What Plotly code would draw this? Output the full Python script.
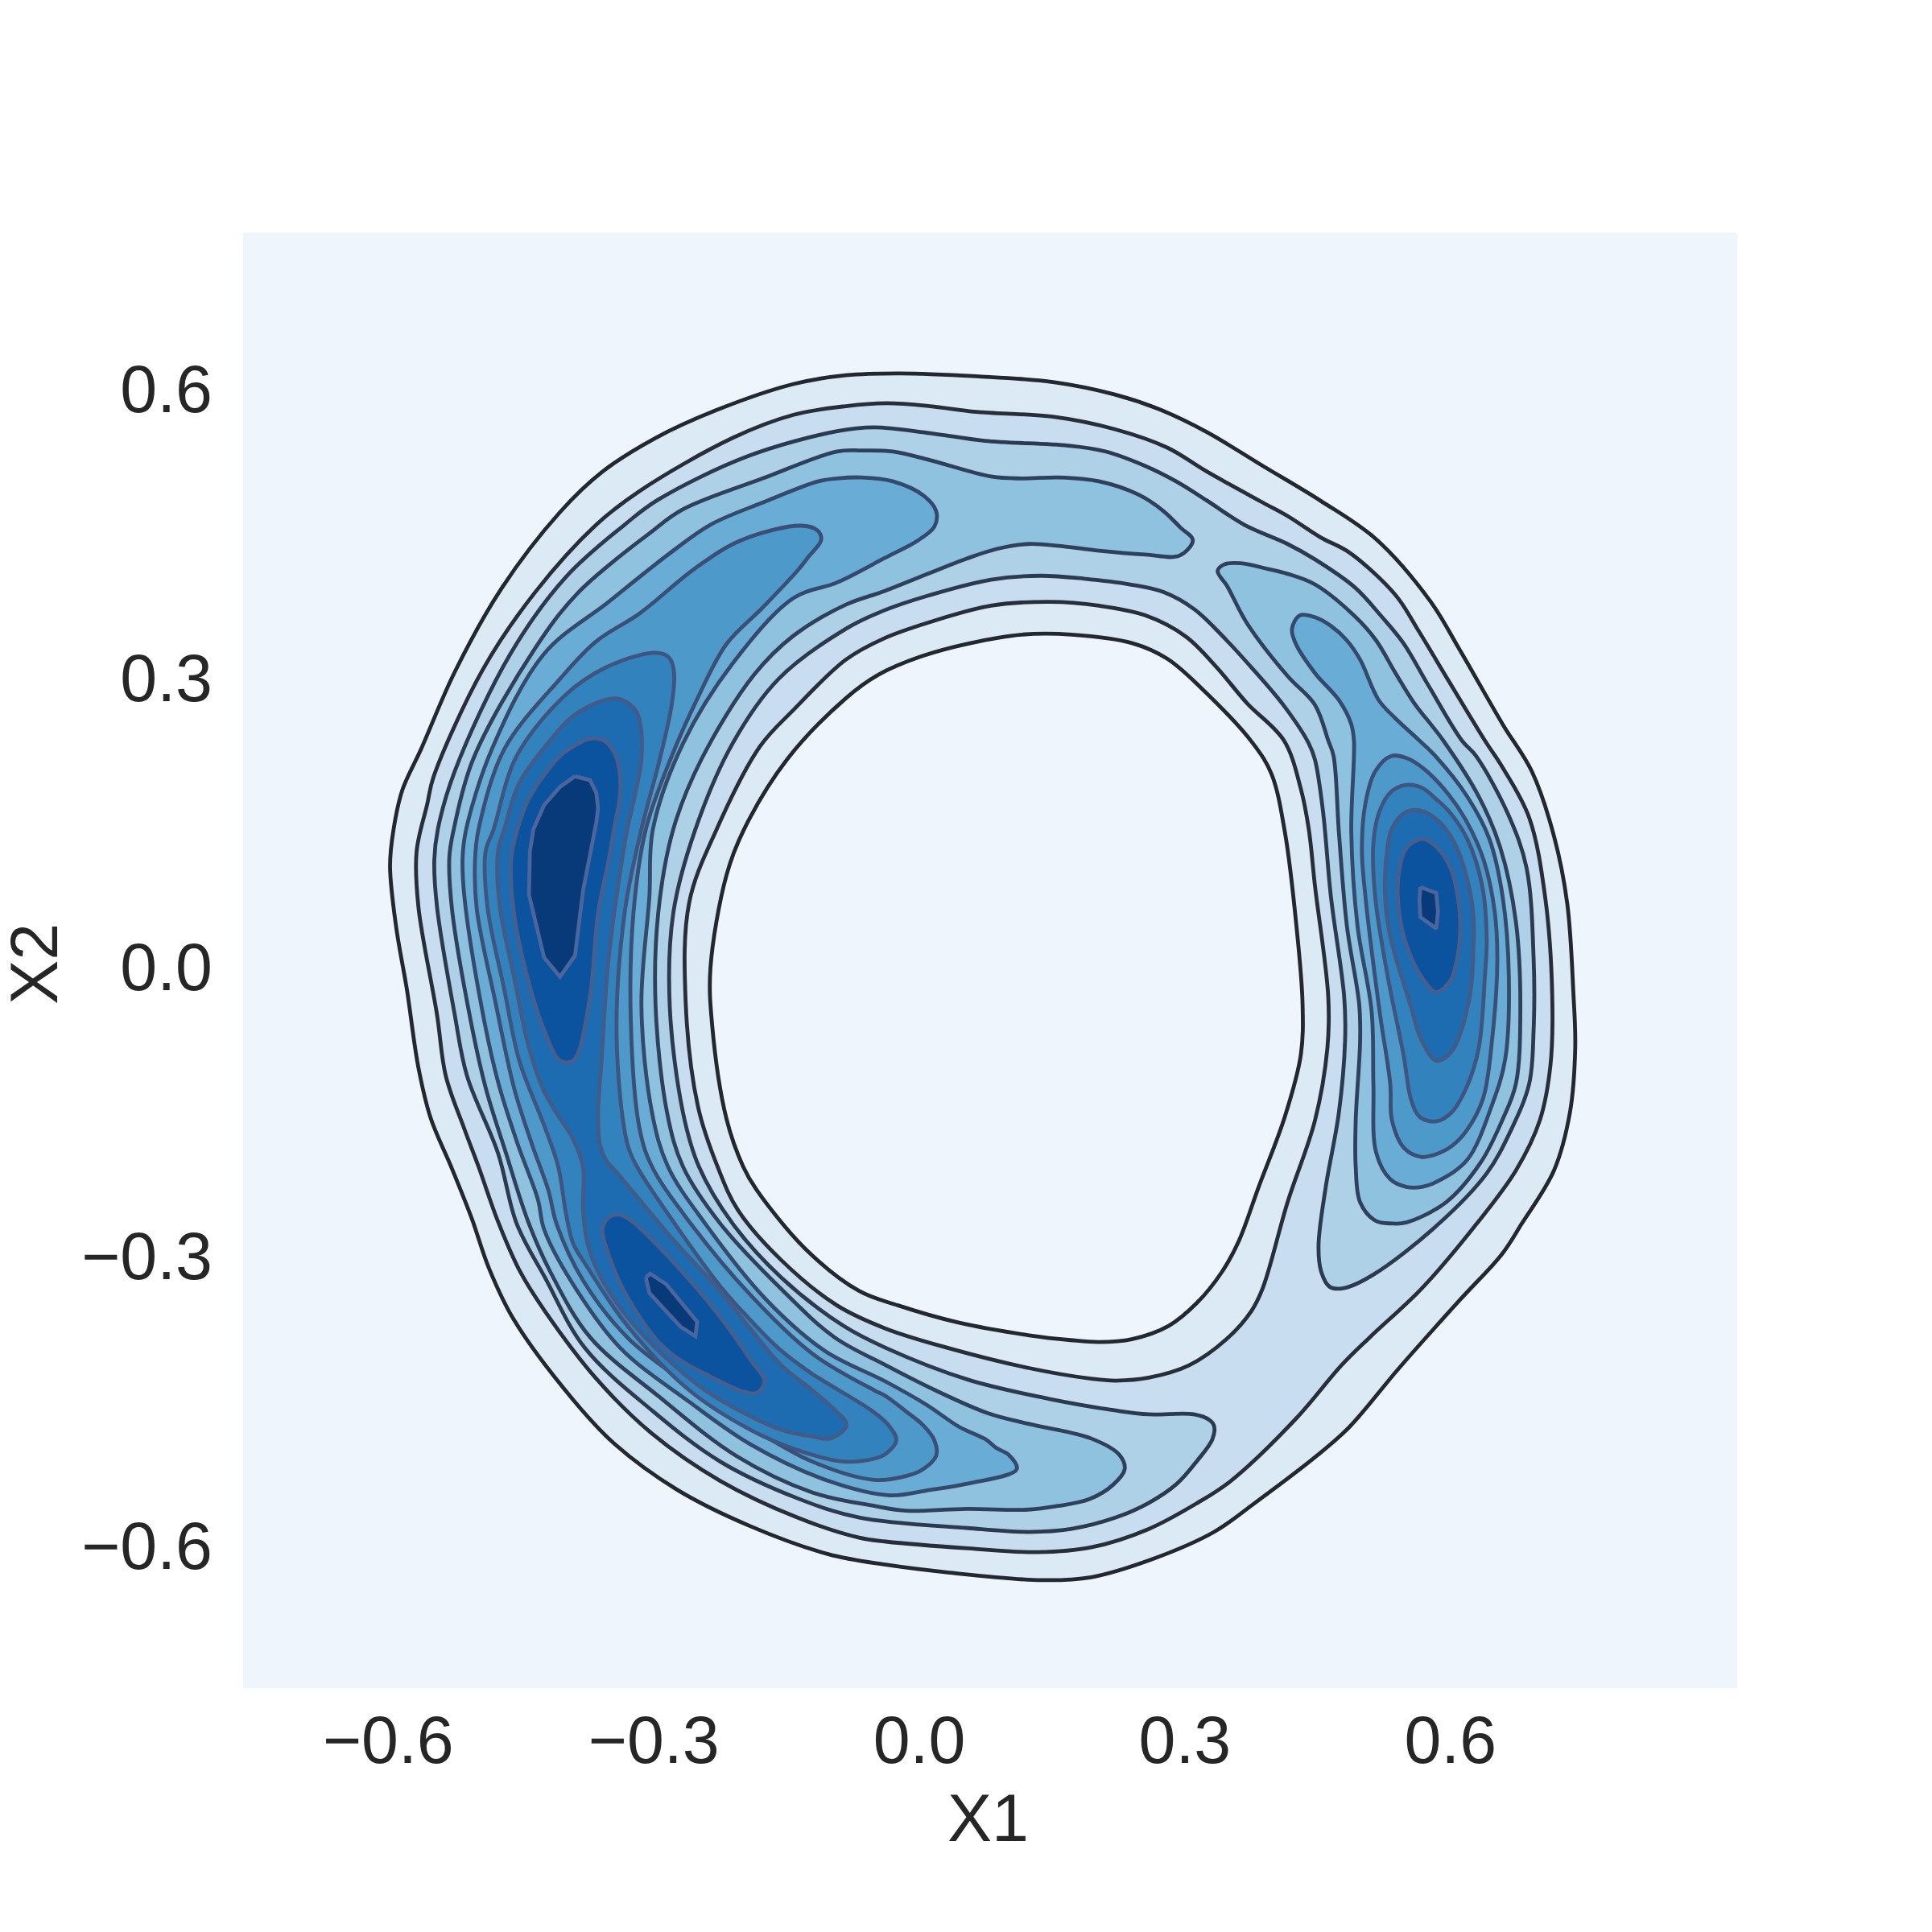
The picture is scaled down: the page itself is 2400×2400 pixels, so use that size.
import plotly.graph_objects as go

# Density contours, in data units (X1, X2); one closed path per array pair.
L1_outer_x = [-0.023,0.064,0.151,0.221,0.273,0.325,0.388,0.453,0.516,0.577,0.610,0.659,0.692,0.717,0.732,0.739,0.741,0.735,0.717,0.680,0.658,0.611,0.542,0.486,0.449,0.379,0.333,0.264,0.194,0.138,0.032,-0.038,-0.103,-0.191,-0.274,-0.344,-0.392,-0.458,-0.486,-0.506,-0.529,-0.552,-0.566,-0.579,-0.591,-0.598,-0.594,-0.584,-0.563,-0.525,-0.472,-0.406,-0.358,-0.298,-0.229,-0.142,-0.083]
L1_outer_y = [0.616,0.613,0.607,0.594,0.578,0.555,0.520,0.484,0.444,0.380,0.330,0.252,0.203,0.136,0.066,-0.028,-0.084,-0.151,-0.211,-0.267,-0.298,-0.345,-0.416,-0.477,-0.507,-0.556,-0.586,-0.614,-0.633,-0.636,-0.628,-0.620,-0.609,-0.580,-0.542,-0.495,-0.448,-0.366,-0.313,-0.260,-0.207,-0.157,-0.104,-0.023,0.041,0.105,0.143,0.184,0.226,0.306,0.393,0.472,0.514,0.549,0.578,0.605,0.614]

L2_outer_x = [-0.037,0.012,0.064,0.151,0.221,0.280,0.325,0.388,0.416,0.453,0.486,0.538,0.562,0.598,0.639,0.659,0.689,0.707,0.715,0.713,0.701,0.674,0.629,0.568,0.509,0.477,0.426,0.352,0.314,0.259,0.194,0.134,0.055,-0.038,-0.068,-0.138,-0.225,-0.302,-0.365,-0.423,-0.451,-0.476,-0.498,-0.514,-0.535,-0.545,-0.566,-0.568,-0.556,-0.549,-0.493,-0.434,-0.365,-0.316,-0.211,-0.142,-0.083]
L2_outer_y = [0.585,0.582,0.576,0.571,0.558,0.539,0.514,0.482,0.468,0.446,0.430,0.386,0.352,0.297,0.235,0.207,0.155,0.073,-0.028,-0.102,-0.159,-0.211,-0.267,-0.333,-0.384,-0.413,-0.468,-0.533,-0.556,-0.583,-0.602,-0.607,-0.603,-0.596,-0.592,-0.571,-0.533,-0.484,-0.427,-0.357,-0.316,-0.264,-0.207,-0.168,-0.113,-0.049,0.063,0.120,0.169,0.197,0.309,0.389,0.459,0.494,0.549,0.573,0.582]

L2_hole_x = [0.147,0.203,0.255,0.301,0.335,0.370,0.412,0.431,0.440,0.447,0.462,0.461,0.447,0.416,0.388,0.375,0.347,0.305,0.259,0.222,0.194,0.124,0.032,-0.038,-0.093,-0.156,-0.205,-0.228,-0.250,-0.264,-0.260,-0.229,-0.180,-0.142,-0.083,-0.040,0.012,0.081]
L2_hole_y = [0.379,0.375,0.365,0.343,0.312,0.274,0.235,0.185,0.143,0.084,-0.031,-0.084,-0.159,-0.244,-0.333,-0.357,-0.386,-0.413,-0.426,-0.429,-0.427,-0.416,-0.395,-0.375,-0.351,-0.304,-0.252,-0.207,-0.145,-0.036,0.067,0.143,0.229,0.267,0.319,0.341,0.358,0.375]

L1_hole_x = [0.172,0.241,0.280,0.318,0.377,0.398,0.413,0.426,0.433,0.431,0.413,0.383,0.361,0.342,0.314,0.282,0.240,0.203,0.171,0.124,0.045,-0.024,-0.068,-0.128,-0.184,-0.199,-0.218,-0.234,-0.236,-0.218,-0.198,-0.149,-0.083,-0.047,0.001,0.057,0.116]
L1_hole_y = [0.345,0.336,0.320,0.290,0.232,0.200,0.140,0.043,-0.039,-0.091,-0.155,-0.229,-0.284,-0.316,-0.348,-0.372,-0.386,-0.389,-0.387,-0.382,-0.369,-0.351,-0.336,-0.293,-0.231,-0.207,-0.157,-0.061,-0.001,0.095,0.143,0.216,0.279,0.303,0.322,0.336,0.345]

L3_x = [0.480,0.513,0.586,0.641,0.668,0.689,0.694,0.694,0.686,0.665,0.629,0.613,0.574,0.547,0.522,0.492,0.447,0.416,0.367,0.325,0.290,0.255,0.210,0.168,0.074,0.012,-0.051,-0.093,-0.194,-0.295,-0.333,-0.399,-0.462,-0.525,-0.544,-0.548,-0.545,-0.525,-0.511,-0.476,-0.455,-0.423,-0.378,-0.302,-0.225,-0.138,-0.068,0.055,0.124,0.171,0.222,0.259,0.291,0.314,0.331,0.333,0.328,0.310,0.259,0.222,0.147,0.055,-0.038,-0.086,-0.156,-0.211,-0.249,-0.267,-0.282,-0.278,-0.253,-0.211,-0.159,-0.083,-0.040,0.012,0.081,0.137,0.186,0.238,0.276,0.311,0.342,0.377,0.412,0.440,0.447,0.456,0.465,0.480,0.481,0.474,0.459,0.451,0.454,0.464]
L3_y = [-0.333,-0.319,-0.267,-0.214,-0.170,-0.121,-0.065,0.009,0.103,0.159,0.219,0.235,0.294,0.336,0.364,0.394,0.423,0.439,0.459,0.484,0.504,0.520,0.535,0.541,0.546,0.554,0.560,0.556,0.530,0.485,0.459,0.405,0.325,0.203,0.143,0.111,0.063,-0.049,-0.113,-0.193,-0.266,-0.322,-0.395,-0.460,-0.513,-0.551,-0.571,-0.582,-0.586,-0.583,-0.571,-0.556,-0.536,-0.512,-0.490,-0.476,-0.470,-0.464,-0.464,-0.460,-0.448,-0.428,-0.395,-0.372,-0.322,-0.266,-0.207,-0.151,-0.040,0.056,0.143,0.232,0.299,0.351,0.370,0.386,0.402,0.406,0.403,0.397,0.389,0.371,0.344,0.309,0.271,0.232,0.215,0.162,0.073,-0.031,-0.076,-0.151,-0.229,-0.289,-0.316,-0.332]

L4_left_x = [0.309,0.295,0.276,0.248,0.203,0.158,0.116,0.081,0.012,-0.030,-0.065,-0.093,-0.177,-0.267,-0.305,-0.385,-0.434,-0.504,-0.526,-0.531,-0.528,-0.507,-0.490,-0.467,-0.442,-0.417,-0.372,-0.295,-0.207,-0.121,-0.051,-0.015,0.054,0.120,0.157,0.192,0.219,0.232,0.226,0.194,0.124,0.078,0.018,-0.038,-0.096,-0.156,-0.225,-0.267,-0.285,-0.298,-0.295,-0.278,-0.246,-0.187,-0.142,-0.083,-0.040,0.012,0.054,0.088,0.123,0.158,0.203,0.255,0.294]
L4_left_y = [0.443,0.456,0.473,0.490,0.504,0.508,0.507,0.509,0.526,0.535,0.536,0.535,0.507,0.475,0.450,0.389,0.331,0.216,0.143,0.114,0.060,-0.055,-0.125,-0.193,-0.264,-0.316,-0.384,-0.445,-0.507,-0.545,-0.559,-0.564,-0.562,-0.563,-0.559,-0.552,-0.537,-0.521,-0.506,-0.489,-0.474,-0.463,-0.439,-0.413,-0.384,-0.334,-0.266,-0.207,-0.151,-0.040,0.056,0.143,0.216,0.303,0.344,0.376,0.390,0.409,0.424,0.434,0.439,0.437,0.432,0.428,0.427]

L4_right_x = [0.337,0.345,0.363,0.394,0.416,0.447,0.492,0.516,0.538,0.559,0.592,0.632,0.656,0.674,0.679,0.674,0.659,0.634,0.595,0.550,0.534,0.515,0.498,0.493,0.493,0.498,0.497,0.483,0.474,0.468,0.462,0.447,0.416,0.370,0.348]
L4_right_y = [0.411,0.418,0.419,0.413,0.408,0.397,0.364,0.339,0.305,0.274,0.235,0.177,0.125,0.047,-0.046,-0.121,-0.158,-0.203,-0.244,-0.265,-0.266,-0.263,-0.244,-0.207,-0.159,-0.076,-0.039,0.043,0.140,0.219,0.235,0.272,0.302,0.357,0.395]

L5_left_x = [0.019,0.005,-0.030,-0.065,-0.093,-0.114,-0.177,-0.236,-0.281,-0.351,-0.424,-0.483,-0.512,-0.516,-0.514,-0.493,-0.476,-0.454,-0.431,-0.424,-0.394,-0.338,-0.260,-0.191,-0.103,-0.033,0.008,0.054,0.110,0.101,0.087,0.075,0.045,0.008,-0.038,-0.107,-0.173,-0.242,-0.284,-0.302,-0.314,-0.305,-0.301,-0.267,-0.211,-0.142,-0.093,-0.040,-0.001,0.017]
L5_left_y = [0.473,0.489,0.504,0.508,0.507,0.504,0.482,0.459,0.430,0.379,0.325,0.226,0.143,0.114,0.073,-0.049,-0.119,-0.183,-0.241,-0.272,-0.325,-0.395,-0.451,-0.495,-0.533,-0.548,-0.543,-0.536,-0.521,-0.506,-0.499,-0.490,-0.477,-0.454,-0.430,-0.398,-0.345,-0.266,-0.207,-0.151,-0.040,0.073,0.143,0.232,0.315,0.383,0.399,0.424,0.443,0.457]

L5_right_x = [0.421,0.430,0.447,0.465,0.483,0.498,0.519,0.538,0.565,0.583,0.619,0.644,0.659,0.666,0.662,0.647,0.619,0.586,0.568,0.550,0.532,0.516,0.513,0.511,0.495,0.488,0.491,0.488,0.474,0.447,0.425]
L5_right_y = [0.351,0.365,0.363,0.354,0.339,0.319,0.277,0.258,0.235,0.219,0.177,0.133,0.073,-0.009,-0.095,-0.143,-0.200,-0.222,-0.228,-0.228,-0.220,-0.192,-0.121,-0.046,0.043,0.140,0.235,0.252,0.277,0.305,0.336]

L6_left_x = [-0.111,-0.115,-0.134,-0.201,-0.253,-0.316,-0.365,-0.406,-0.469,-0.498,-0.502,-0.500,-0.479,-0.458,-0.438,-0.419,-0.410,-0.380,-0.328,-0.260,-0.191,-0.121,-0.051,-0.015,0.004,0.019,0.017,0.004,-0.015,-0.038,-0.051,-0.121,-0.191,-0.260,-0.302,-0.316,-0.326,-0.323,-0.309,-0.281,-0.250,-0.218,-0.177,-0.138,-0.125]
L6_left_y = [0.443,0.453,0.458,0.443,0.414,0.367,0.338,0.299,0.226,0.143,0.111,0.060,-0.036,-0.125,-0.183,-0.232,-0.266,-0.325,-0.386,-0.434,-0.477,-0.513,-0.532,-0.528,-0.521,-0.507,-0.491,-0.475,-0.461,-0.445,-0.439,-0.401,-0.340,-0.264,-0.207,-0.168,-0.055,0.056,0.143,0.216,0.280,0.335,0.373,0.411,0.426]

L6_right_x = [0.533,0.550,0.571,0.598,0.619,0.638,0.650,0.653,0.647,0.637,0.618,0.601,0.584,0.568,0.548,0.534,0.532,0.520,0.504,0.500,0.504,0.515]
L6_right_y = [0.219,0.217,0.205,0.179,0.150,0.110,0.058,0.006,-0.076,-0.136,-0.170,-0.186,-0.194,-0.197,-0.188,-0.159,-0.121,-0.046,0.073,0.122,0.170,0.203]

L7_left_x = [-0.287,-0.303,-0.354,-0.399,-0.455,-0.481,-0.490,-0.488,-0.469,-0.452,-0.424,-0.408,-0.399,-0.391,-0.376,-0.330,-0.260,-0.191,-0.138,-0.086,-0.051,-0.038,-0.026,-0.035,-0.054,-0.121,-0.156,-0.191,-0.225,-0.281,-0.319,-0.330,-0.342,-0.333,-0.314,-0.294,-0.280,-0.277,-0.281]
L7_left_y = [0.324,0.326,0.311,0.283,0.219,0.143,0.120,0.063,-0.023,-0.097,-0.164,-0.207,-0.257,-0.287,-0.310,-0.372,-0.439,-0.480,-0.501,-0.513,-0.510,-0.505,-0.491,-0.475,-0.460,-0.422,-0.398,-0.366,-0.331,-0.260,-0.207,-0.183,-0.072,0.056,0.143,0.213,0.271,0.304,0.319]

L7_right_x = [0.533,0.550,0.568,0.583,0.598,0.619,0.636,0.641,0.639,0.632,0.619,0.601,0.584,0.566,0.556,0.547,0.529,0.515,0.513,0.520]
L7_right_y = [0.182,0.189,0.186,0.175,0.162,0.133,0.084,0.028,-0.009,-0.084,-0.123,-0.151,-0.160,-0.156,-0.139,-0.091,-0.009,0.073,0.129,0.162]

L8_left_x = [-0.338,-0.321,-0.315,-0.314,-0.323,-0.330,-0.351,-0.359,-0.363,-0.361,-0.354,-0.340,-0.319,-0.277,-0.225,-0.191,-0.156,-0.121,-0.095,-0.082,-0.100,-0.121,-0.156,-0.191,-0.242,-0.288,-0.330,-0.358,-0.374,-0.380,-0.380,-0.392,-0.406,-0.424,-0.441,-0.458,-0.474,-0.476,-0.469,-0.452,-0.420,-0.392,-0.356]
L8_left_y = [0.278,0.267,0.251,0.216,0.171,0.143,0.009,-0.097,-0.151,-0.183,-0.200,-0.215,-0.238,-0.284,-0.336,-0.375,-0.413,-0.439,-0.460,-0.475,-0.489,-0.487,-0.480,-0.466,-0.439,-0.404,-0.363,-0.325,-0.290,-0.252,-0.207,-0.177,-0.157,-0.129,-0.084,-0.010,0.063,0.120,0.143,0.191,0.232,0.260,0.277]

L8_right_x = [0.550,0.568,0.586,0.604,0.618,0.626,0.626,0.621,0.601,0.584,0.566,0.556,0.532,0.526,0.529,0.534]
L8_right_y = [0.161,0.162,0.152,0.130,0.095,0.054,0.020,-0.035,-0.088,-0.097,-0.073,-0.043,0.032,0.077,0.125,0.144]

L9_upper_x = [-0.372,-0.356,-0.347,-0.340,-0.338,-0.345,-0.351,-0.363,-0.373,-0.391,-0.406,-0.424,-0.441,-0.458,-0.461,-0.454,-0.441,-0.406,-0.389]
L9_upper_y = [0.237,0.235,0.226,0.210,0.181,0.143,0.111,0.056,-0.036,-0.097,-0.097,-0.065,-0.017,0.056,0.114,0.143,0.175,0.219,0.230]

L9_lower_x = [-0.338,-0.323,-0.277,-0.225,-0.191,-0.175,-0.185,-0.242,-0.288,-0.330,-0.353,-0.358,-0.351]
L9_lower_y = [-0.257,-0.265,-0.307,-0.363,-0.407,-0.430,-0.442,-0.422,-0.395,-0.342,-0.293,-0.272,-0.260]

L9_right_x = [0.568,0.584,0.600,0.609,0.611,0.607,0.600,0.584,0.568,0.550,0.542,0.541,0.550]
L9_right_y = [0.133,0.125,0.103,0.069,0.036,0.006,-0.014,-0.026,-0.011,0.024,0.058,0.092,0.123]

L10_upper_x = [-0.389,-0.372,-0.365,-0.363,-0.365,-0.380,-0.389,-0.406,-0.424,-0.441,-0.440,-0.436,-0.424,-0.406]
L10_upper_y = [0.198,0.194,0.181,0.165,0.150,0.079,0.012,-0.010,0.010,0.075,0.120,0.143,0.168,0.187]

L10_lower_x = [-0.309,-0.304,-0.286,-0.269,-0.251,-0.253,-0.270,-0.286,-0.305]
L10_lower_y = [-0.322,-0.318,-0.329,-0.348,-0.368,-0.383,-0.373,-0.357,-0.338]

L10_right_x = [0.566,0.584,0.586,0.584,0.566,0.565]
L10_right_y = [0.083,0.077,0.058,0.040,0.052,0.069]

tick_vals = [-0.6, -0.3, 0.0, 0.3, 0.6]
tick_text = ["\u22120.6", "\u22120.3", "0.0", "0.3", "0.6"]

BG = "#eef5fc"
FILLS = ["#dceaf6", "#c9ddf0", "#aed1e7", "#8fc2de", "#69add6", "#4d99ca", "#3282be", "#1d6cb1", "#0b539f", "#083979"]
LINES = ["#23272f", "#272e39", "#2c3a4f", "#2f405c", "#344a6c", "#394f75", "#3e5580", "#425b87", "#465f8e", "#4a669c"]

paths = [
    (L1_outer_x, L1_outer_y, FILLS[0], 0),
    (L2_outer_x, L2_outer_y, FILLS[1], 1),
    (L2_hole_x, L2_hole_y, FILLS[0], 1),
    (L1_hole_x, L1_hole_y, BG, 0),
    (L3_x, L3_y, FILLS[2], 2),
    (L4_left_x, L4_left_y, FILLS[3], 3),
    (L4_right_x, L4_right_y, FILLS[3], 3),
    (L5_left_x, L5_left_y, FILLS[4], 4),
    (L5_right_x, L5_right_y, FILLS[4], 4),
    (L6_left_x, L6_left_y, FILLS[5], 5),
    (L6_right_x, L6_right_y, FILLS[5], 5),
    (L7_left_x, L7_left_y, FILLS[6], 6),
    (L7_right_x, L7_right_y, FILLS[6], 6),
    (L8_left_x, L8_left_y, FILLS[7], 7),
    (L8_right_x, L8_right_y, FILLS[7], 7),
    (L9_upper_x, L9_upper_y, FILLS[8], 8),
    (L9_lower_x, L9_lower_y, FILLS[8], 8),
    (L9_right_x, L9_right_y, FILLS[8], 8),
    (L10_upper_x, L10_upper_y, FILLS[9], 9),
    (L10_lower_x, L10_lower_y, FILLS[9], 9),
    (L10_right_x, L10_right_y, FILLS[9], 9),
]

fig = go.Figure()
for xs, ys, fill, level in paths:
    small = level >= 9
    fig.add_trace(go.Scatter(
        x=xs + xs[:1], y=ys + ys[:1], mode="lines", fill="toself", fillcolor=fill,
        line=dict(color=LINES[level], width=4.8,
                  shape="linear" if small else "spline", smoothing=1.0),
        hoverinfo="skip", showlegend=False,
    ))

font = dict(family="Liberation Sans, Arial, sans-serif", size=82.5, color="#262626")
fig.update_layout(
    width=2400, height=2400, autosize=False,
    margin=dict(l=294, r=250, t=281, b=311, autoexpand=False),
    paper_bgcolor="white", plot_bgcolor=BG, font=font, showlegend=False,
    xaxis=dict(range=[-0.764, 0.924], tickvals=tick_vals, ticktext=tick_text, showgrid=False,
               zeroline=False, showline=False, ticks="", tickfont=font, ticklabelstandoff=9),
    yaxis=dict(range=[-0.748, 0.762], tickvals=tick_vals, ticktext=tick_text, showgrid=False,
               zeroline=False, showline=False, ticks="", tickfont=font, ticklabelstandoff=37),
    annotations=[
        dict(text="X1", xref="paper", yref="paper", x=0.4988, y=-0.0889,
             xanchor="center", yanchor="middle", showarrow=False, font=font),
        dict(text="X2", xref="paper", yref="paper", x=-0.1401, y=0.4979, textangle=-90,
             xanchor="center", yanchor="middle", showarrow=False, font=font),
    ],
)
fig.write_html("out.html")
